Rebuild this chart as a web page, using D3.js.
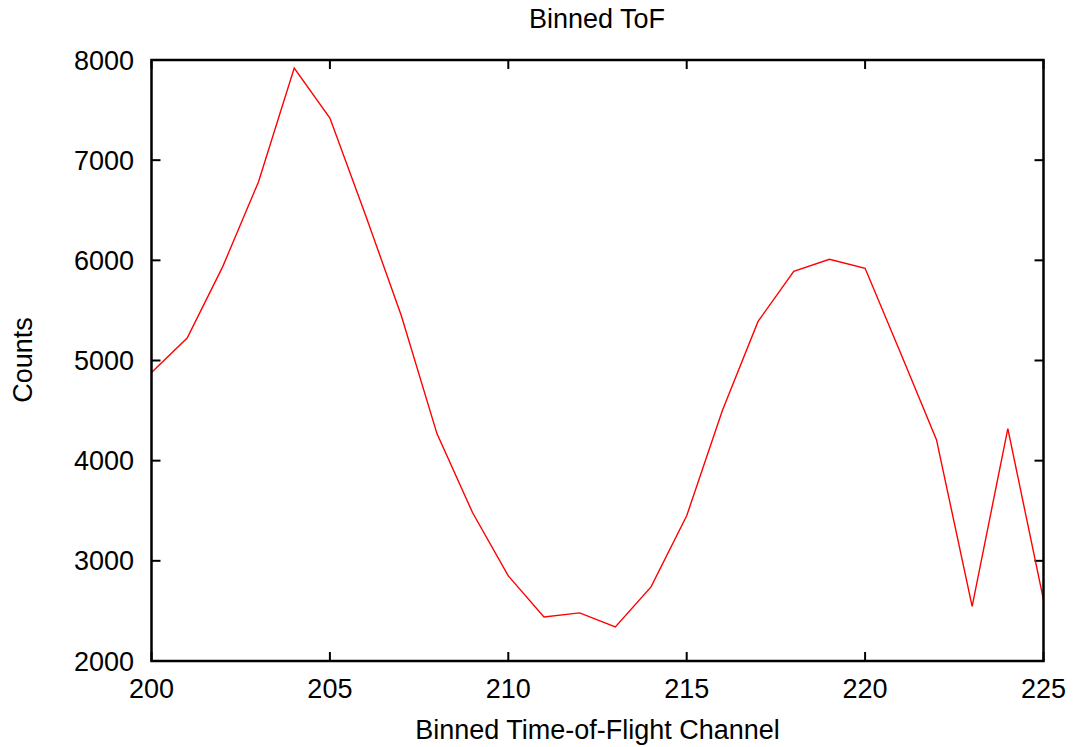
<!DOCTYPE html>
<html><head><meta charset="utf-8">
<script src="https://cdn.jsdelivr.net/npm/d3@7"></script>
<style>body{margin:0;background:#fff;} text{font-family:"Liberation Sans",Arial,sans-serif;fill:#000;}</style>
</head><body>
<svg id="c" width="1077" height="747"></svg>
<script>
const channels = [200,201,202,203,204,205,206,207,208,209,210,211,212,213,214,215,216,217,218,219,220,221,222,223,224,225];
const counts = [4880,5225,5940,6785,7920,7420,6450,5450,4270,3480,2850,2440,2480,2340,2740,3450,4500,5390,5890,6010,5920,5070,4210,2545,4320,2610];
const xTicks = [200,205,210,215,220,225];
const yTicks = [2000,3000,4000,5000,6000,7000,8000];

const svg = d3.select("#c");
const L=151.5, R=1043.5, T=60, B=661;
const x = d3.scaleLinear().domain([200,225]).range([L,R]);
const y = d3.scaleLinear().domain([2000,8000]).range([B,T]);
const FS = 27;

const g = svg.append("g");
const tl = 9;
xTicks.forEach(t=>{
  g.append("line").attr("x1",x(t)).attr("x2",x(t)).attr("y1",B).attr("y2",B-tl).attr("stroke","#000").attr("stroke-width",2);
  g.append("line").attr("x1",x(t)).attr("x2",x(t)).attr("y1",T).attr("y2",T+tl).attr("stroke","#000").attr("stroke-width",2);
  g.append("text").attr("x",x(t)).attr("y",698).attr("text-anchor","middle").attr("font-size",FS).text(t);
});
yTicks.forEach(t=>{
  g.append("line").attr("x1",L).attr("x2",L+tl).attr("y1",y(t)).attr("y2",y(t)).attr("stroke","#000").attr("stroke-width",2);
  g.append("line").attr("x1",R).attr("x2",R-tl).attr("y1",y(t)).attr("y2",y(t)).attr("stroke","#000").attr("stroke-width",2);
  g.append("text").attr("x",134).attr("y",y(t)+9.5).attr("text-anchor","end").attr("font-size",FS).text(t);
});
const line = d3.line().x((d,i)=>x(channels[i])).y(d=>y(d));
svg.append("path").datum(counts).attr("d",line).attr("fill","none").attr("stroke","#ff0000").attr("stroke-width",1.4);
svg.append("rect").attr("x",L).attr("y",T).attr("width",R-L).attr("height",B-T).attr("fill","none").attr("stroke","#000").attr("stroke-width",2.5);

svg.append("text").attr("x",597).attr("y",28).attr("text-anchor","middle").attr("font-size",FS).text("Binned ToF");
svg.append("text").attr("x",597.5).attr("y",739).attr("text-anchor","middle").attr("font-size",FS).text("Binned Time-of-Flight Channel");
svg.append("text").attr("transform","translate(32,360) rotate(-90)").attr("text-anchor","middle").attr("font-size",FS).text("Counts");
</script>
</body></html>
